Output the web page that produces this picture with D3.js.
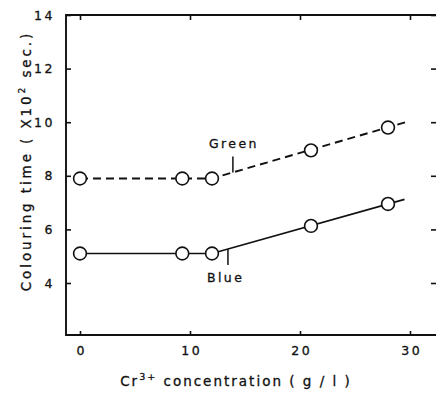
<!DOCTYPE html>
<html>
<head>
<meta charset="utf-8">
<script src="https://cdn.jsdelivr.net/npm/d3@7"></script>
<style>
  html, body { margin: 0; padding: 0; background: #fff; }
  svg { display: block; }
  text { font-family: "DejaVu Sans", sans-serif; fill: #111; stroke: #111; stroke-width: 0.3; }
</style>
</head>
<body>
<svg id="chart" width="436" height="394"></svg>
<script>
// Cr3+ concentration (g/l) at which the samples were measured
const concentration = [0, 9.3, 12, 21, 28];
// Colouring time (x10^2 s) for each shade
const greenTime = [7.9, 7.9, 7.9, 8.95, 9.8];
const blueTime  = [5.1, 5.1, 5.1, 6.13, 6.95];
// Trend lines drawn through the points: flat, then rising past 12 g/l
const greenTrend = [[0, 7.9], [12, 7.9], [29.6, 10.0]];
const blueTrend  = [[0, 5.1], [12, 5.1], [29.5, 7.12]];
// Axis ticks
const xTicks = [0, 10, 20, 30];
const yTicks = [4, 6, 8, 10, 12, 14];
// Where the curve labels point onto their lines
const greenLabelAt = 13.9;
const blueLabelAt = 13.45;

const svg = d3.select("#chart");
const frame = { left: 66, right: 437, top: 15, bottom: 335 };

const x = d3.scaleLinear().domain([0, 30]).range([80, 410]);
const y = d3.scaleLinear().domain([2, 14]).range([336.6, 15]);

// Frame
svg.append("path")
  .attr("d", `M${frame.right},${frame.bottom}H${frame.left}V${frame.top}H${frame.right}`)
  .attr("fill", "none").attr("stroke", "#111").attr("stroke-width", 1.9);

// Bottom axis with inward ticks
const gx = svg.append("g").attr("transform", `translate(0,${frame.bottom})`)
  .call(d3.axisBottom(x).tickValues(xTicks).tickSize(-4).tickPadding(11).tickFormat(d3.format("d")));
// Top axis: ticks only
const gxt = svg.append("g").attr("transform", `translate(0,${frame.top})`)
  .call(d3.axisTop(x).tickValues(xTicks).tickSize(-5).tickFormat(""));
// Left axis with inward ticks
const gy = svg.append("g").attr("transform", `translate(${frame.left},0)`)
  .call(d3.axisLeft(y).tickValues(yTicks).tickSize(-5).tickPadding(11).tickFormat(d3.format("d")));
// Right axis: ticks only
const gyr = svg.append("g").attr("transform", `translate(${frame.right - 1},0)`)
  .call(d3.axisRight(y).tickValues(yTicks).tickSize(-5).tickFormat(""));

[gx, gxt, gy, gyr].forEach(g => {
  g.select(".domain").remove();
  g.selectAll(".tick line").attr("stroke", "#111").attr("stroke-width", 1.6);
  g.selectAll(".tick text")
    .attr("font-family", "DejaVu Sans, sans-serif")
    .attr("font-size", 12.5)
    .attr("letter-spacing", 2.5)
    .attr("fill", "#111");
});
gx.selectAll(".tick text").attr("dx", 1.2);

// Trend lines
const line = d3.line().x(d => x(d[0])).y(d => y(d[1]));
svg.append("path").datum(greenTrend).attr("d", line)
  .attr("fill", "none").attr("stroke", "#111").attr("stroke-width", 1.9)
  .attr("stroke-dasharray", "8,5");
svg.append("path").datum(blueTrend).attr("d", line)
  .attr("fill", "none").attr("stroke", "#111").attr("stroke-width", 1.7);

// Data points: open circles
function drawPoints(values) {
  svg.append("g").selectAll("circle")
    .data(concentration.map((c, i) => [c, values[i]]))
    .join("circle")
    .attr("cx", d => x(d[0])).attr("cy", d => y(d[1]))
    .attr("r", 6.4)
    .attr("fill", "#fff").attr("stroke", "#111").attr("stroke-width", 1.6);
}
drawPoints(greenTime);
drawPoints(blueTime);

// Value of a trend line at a given concentration
function trendAt(trend, c) {
  for (let i = 1; i < trend.length; i++) {
    const [x0, y0] = trend[i - 1], [x1, y1] = trend[i];
    if (c <= x1) return y0 + (y1 - y0) * (c - x0) / (x1 - x0);
  }
  return trend[trend.length - 1][1];
}

// Curve labels with pointer ticks
const gyAt = y(trendAt(greenTrend, greenLabelAt));
svg.append("line")
  .attr("x1", x(greenLabelAt)).attr("x2", x(greenLabelAt))
  .attr("y1", gyAt).attr("y2", gyAt - 16)
  .attr("stroke", "#111").attr("stroke-width", 1.5);
svg.append("text").attr("x", 209).attr("y", gyAt - 24)
  .attr("font-size", 12.5).attr("letter-spacing", 2.4).text("Green");

const byAt = y(trendAt(blueTrend, blueLabelAt));
svg.append("line")
  .attr("x1", x(blueLabelAt)).attr("x2", x(blueLabelAt))
  .attr("y1", byAt).attr("y2", byAt + 16)
  .attr("stroke", "#111").attr("stroke-width", 1.5);
svg.append("text").attr("x", 207).attr("y", byAt + 33)
  .attr("font-size", 12.5).attr("letter-spacing", 2.4).text("Blue");

// Axis titles
const yTitle = svg.append("text")
  .attr("transform", "translate(31,161) rotate(-90)")
  .attr("text-anchor", "middle")
  .attr("font-size", 13.5).attr("letter-spacing", 2.9);
yTitle.append("tspan").text("Colouring time ( X10");
yTitle.append("tspan").attr("font-size", 9).attr("dy", -6).text("2");
yTitle.append("tspan").attr("dy", 6).text(" sec.)");

const xTitle = svg.append("text")
  .attr("x", 236).attr("y", 386)
  .attr("text-anchor", "middle")
  .attr("font-size", 13.5).attr("letter-spacing", 2.0);
xTitle.append("tspan").text("Cr");
xTitle.append("tspan").attr("font-size", 9.5).attr("dy", -6).text("3+");
xTitle.append("tspan").attr("dy", 6).text(" concentration  ( g / l )");
</script>
</body>
</html>
